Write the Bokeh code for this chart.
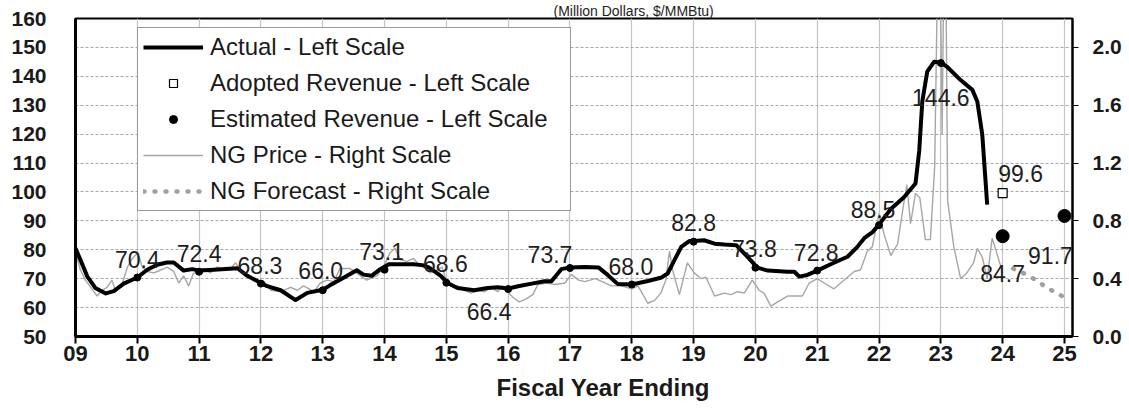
from bokeh.plotting import figure
from bokeh.models import (Range1d, LinearAxis, FixedTicker, Legend, LegendItem, Label,
                          Title, NumeralTickFormatter)
from bokeh.embed import file_html
from bokeh.resources import INLINE

# ---------------- data ----------------
act_t = [2009.00, 2009.08, 2009.19, 2009.32, 2009.49, 2009.62, 2009.78, 2010.00, 2010.16, 2010.32,
         2010.48, 2010.59, 2010.75, 2010.89, 2011.00, 2011.24, 2011.62, 2011.78, 2012.00, 2012.10,
         2012.32, 2012.56, 2012.75, 2013.00, 2013.11, 2013.33, 2013.55, 2013.66, 2013.79, 2013.93,
         2014.07, 2014.47, 2014.64, 2014.74, 2014.91, 2015.02, 2015.18, 2015.45, 2015.67, 2015.83,
         2016.00, 2016.16, 2016.38, 2016.59, 2016.70, 2016.86, 2017.00, 2017.24, 2017.46, 2017.61,
         2017.77, 2018.00, 2018.26, 2018.47, 2018.58, 2018.69, 2018.80, 2018.93, 2019.01, 2019.17,
         2019.34, 2019.50, 2019.69, 2019.87, 2020.03, 2020.20, 2020.52, 2020.63, 2020.71, 2020.84,
         2021.00, 2021.27, 2021.49, 2021.65, 2021.76, 2021.89, 2022.00, 2022.19, 2022.40, 2022.59,
         2022.65, 2022.70, 2022.78, 2022.89, 2023.00, 2023.10, 2023.32, 2023.51, 2023.59, 2023.67,
         2023.75]
act_v = [80.5, 76.5, 70.8, 66.8, 64.9, 65.7, 68.3, 70.4, 73.1, 74.8,
         75.6, 75.6, 72.8, 73.3, 72.8, 73.1, 73.6, 71.0, 68.5, 67.4,
         66.0, 62.6, 65.1, 66.2, 67.6, 70.2, 72.9, 71.4, 71.0, 73.3,
         75.0, 75.0, 74.6, 73.6, 71.0, 68.5, 66.8, 66.0, 66.8, 67.0,
         66.6, 67.4, 68.3, 69.1, 69.1, 73.3, 73.9, 74.0, 73.9, 71.3,
         68.2, 68.0, 69.2, 70.3, 71.8, 76.4, 81.0, 83.0, 83.0, 83.3,
         82.1, 81.8, 81.6, 77.6, 73.8, 72.8, 72.4, 72.4, 70.7, 71.3,
         72.8, 75.5, 77.6, 81.0, 84.0, 86.0, 88.7, 94.1, 98.1, 102.9,
         114.2, 131.3, 141.6, 145.0, 144.8, 143.3, 138.7, 135.3, 131.3, 119.9,
         95.6]

ng_t = [2009.00, 2009.08, 2009.16, 2009.35, 2009.43, 2009.51, 2009.59, 2009.65, 2009.76, 2009.84,
        2009.92, 2010.01, 2010.08, 2010.16, 2010.27, 2010.38, 2010.48, 2010.59, 2010.67, 2010.75,
        2010.83, 2010.91, 2011.00, 2011.08, 2011.18, 2011.29, 2011.40, 2011.51, 2011.59, 2011.70,
        2011.80, 2011.94, 2012.05, 2012.16, 2012.32, 2012.48, 2012.59, 2012.69, 2012.86, 2012.96,
        2013.07, 2013.18, 2013.28, 2013.44, 2013.58, 2013.71, 2013.88, 2013.98, 2014.09, 2014.17,
        2014.26, 2014.36, 2014.47, 2014.55, 2014.66, 2014.74, 2014.85, 2014.93, 2014.99, 2015.07,
        2015.18, 2015.29, 2015.40, 2015.51, 2015.62, 2015.72, 2015.83, 2015.91, 2015.99, 2016.08,
        2016.18, 2016.29, 2016.40, 2016.48, 2016.62, 2016.76, 2016.92, 2017.02, 2017.14, 2017.24,
        2017.41, 2017.52, 2017.67, 2017.83, 2018.00, 2018.10, 2018.26, 2018.37, 2018.47, 2018.55,
        2018.61, 2018.66, 2018.77, 2018.90, 2019.01, 2019.12, 2019.20, 2019.34, 2019.50, 2019.60,
        2019.71, 2019.82, 2019.95, 2020.06, 2020.14, 2020.25, 2020.36, 2020.52, 2020.68, 2020.76,
        2020.87, 2021.00, 2021.11, 2021.27, 2021.38, 2021.49, 2021.60, 2021.70, 2021.81, 2021.89,
        2022.00, 2022.08, 2022.19, 2022.30, 2022.40, 2022.45, 2022.51, 2022.59, 2022.66, 2022.75,
        2022.83, 2022.90, 2022.95, 2022.99, 2023.02, 2023.05, 2023.08, 2023.11, 2023.21, 2023.32,
        2023.42, 2023.53, 2023.59, 2023.67, 2023.75, 2023.83, 2023.91, 2024.00]
ng_p = [0.58, 0.46, 0.39, 0.28, 0.32, 0.34, 0.39, 0.31, 0.37, 0.48,
        0.54, 0.58, 0.48, 0.45, 0.44, 0.46, 0.48, 0.45, 0.37, 0.42,
        0.35, 0.44, 0.43, 0.47, 0.44, 0.48, 0.46, 0.47, 0.51, 0.44,
        0.42, 0.39, 0.38, 0.32, 0.31, 0.34, 0.32, 0.35, 0.31, 0.37,
        0.39, 0.38, 0.47, 0.47, 0.43, 0.39, 0.42, 0.48, 0.58, 0.61,
        0.53, 0.52, 0.54, 0.50, 0.47, 0.44, 0.46, 0.48, 0.40, 0.35,
        0.35, 0.32, 0.30, 0.32, 0.31, 0.34, 0.31, 0.35, 0.31, 0.27,
        0.24, 0.26, 0.29, 0.36, 0.37, 0.36, 0.37, 0.43, 0.39, 0.38,
        0.40, 0.38, 0.35, 0.35, 0.33, 0.35, 0.23, 0.25, 0.30, 0.39,
        0.59, 0.46, 0.29, 0.51, 0.44, 0.40, 0.41, 0.28, 0.30, 0.29,
        0.31, 0.30, 0.39, 0.32, 0.30, 0.21, 0.24, 0.28, 0.28, 0.28,
        0.37, 0.40, 0.37, 0.33, 0.37, 0.41, 0.45, 0.46, 0.59, 0.62,
        0.85, 0.71, 0.56, 0.64, 0.92, 1.05, 0.78, 0.99, 0.96, 0.67,
        0.67, 1.17, 2.60, 2.60, 1.40, 2.60, 2.60, 0.94, 0.62, 0.40,
        0.44, 0.51, 0.61, 0.55, 0.40, 0.68, 0.57, 0.44]

fc_t = [2024.17, 2024.25, 2024.33, 2024.42, 2024.50, 2024.58, 2024.67, 2024.75, 2024.83, 2024.92, 2025.00]
fc_p = [0.47, 0.45, 0.44, 0.42, 0.40, 0.38, 0.35, 0.33, 0.31, 0.29, 0.27]

est_fy = [2010, 2011, 2012, 2013, 2014, 2015, 2016, 2017, 2018, 2019, 2020, 2021, 2022, 2023]
est_v = [70.4, 72.4, 68.3, 66.0, 73.1, 68.6, 66.4, 73.7, 68.0, 82.8, 73.8, 72.8, 88.5, 144.6]
fut_fy = [2024, 2025]
fut_v = [84.7, 91.7]
adopt_fy = [2024]
adopt_v = [99.6]

x_ticks = list(range(2009, 2026))
x_tick_labels = ["09", "10", "11", "12", "13", "14", "15", "16", "17",
                 "18", "19", "20", "21", "22", "23", "24", "25"]
left_ticks = [50, 60, 70, 80, 90, 100, 110, 120, 130, 140, 150, 160]
right_ticks = [0.0, 0.4, 0.8, 1.2, 1.6, 2.0]

title_text = "(Million Dollars, $/MMBtu)"
xaxis_title = "Fiscal Year Ending"

# label offsets (style only, px): dx right, dy up
est_dx = [0, 0, -1, -2, -3, -1, -19, -20, -1, 0, -1, -1, -6, 0]
est_dy = [18, 18, 18, 20, 18, 19, -22, 13, 18, 19, 19, 18, 16, -34]
fut_dx = [0, -14]
fut_dy = [-37, -40]
adopt_dx = [18]
adopt_dy = [20]

FONT = "Liberation Sans"
W, H = 1129, 408
FL, FR, FT, FB = 75, 1072, 16, 337   # frame edges in canvas px

p = figure(width=W, height=H, output_backend="svg", toolbar_location=None,
           x_range=Range1d(2009, 2025.13), y_range=Range1d(50, 160),
           min_border_left=FL, min_border_right=W - FR, min_border_top=FT,
           min_border_bottom=H - FB,
           background_fill_color="white", border_fill_color="white")
p.extra_y_ranges = {"ng": Range1d(0, 2.2)}
p.outline_line_color = "black"
p.outline_line_width = 2

# chart subtitle above the frame
p.title.text = title_text
p.title.align = "left"
p.title.offset = 553 - FL
p.title.standoff = 0
p.title.text_font = FONT
p.title.text_font_style = "normal"
p.title.text_font_size = "14px"
p.title.text_color = "#1e1e1e"

# axes
p.xaxis.ticker = FixedTicker(ticks=x_ticks)
p.xaxis.major_label_overrides = {t: s for t, s in zip(x_ticks, x_tick_labels)}
p.yaxis.ticker = FixedTicker(ticks=left_ticks)
for ax in (p.xaxis[0], p.yaxis[0]):
    ax.axis_line_color = "black"
    ax.axis_line_width = 3
    ax.major_label_text_font = FONT
    ax.major_label_text_font_style = "bold"
    ax.major_label_text_color = "#1a1a1a"
    ax.minor_tick_line_color = None
    ax.major_tick_in = 0
p.xaxis.major_label_text_font_size = "22px"
p.xaxis.major_tick_out = 7
p.xaxis.major_tick_line_width = 2
p.xaxis.major_label_standoff = 2
p.yaxis.major_label_text_font_size = "21px"
p.yaxis.major_tick_out = 0
p.yaxis.major_tick_line_color = None
p.yaxis.major_label_standoff = 29

rax = LinearAxis(y_range_name="ng", ticker=FixedTicker(ticks=right_ticks),
                 formatter=NumeralTickFormatter(format="0.0"))
rax.axis_line_color = "black"
rax.axis_line_width = 2
rax.major_tick_in = 0
rax.major_tick_out = 6
rax.minor_tick_line_color = None
rax.major_label_text_font = FONT
rax.major_label_text_font_style = "bold"
rax.major_label_text_font_size = "21px"
rax.major_label_text_color = "#1a1a1a"
rax.major_label_standoff = 14
p.add_layout(rax, "right")

p.add_layout(Title(text=xaxis_title, align="left", offset=496 - FL, standoff=16,
                   text_font=FONT, text_font_style="bold", text_font_size="24px",
                   text_line_height=0.7, text_color="#1a1a1a"), "below")

# grids
p.xgrid.grid_line_color = "#c4c4c4"
p.xgrid.grid_line_width = 1.2
p.ygrid.grid_line_color = "#a8a8a8"
p.ygrid.grid_line_dash = "3 2"
p.ygrid.grid_line_width = 1

# series
r_ng = p.line(ng_t, ng_p, y_range_name="ng", line_color="#a6a6a6", line_width=1.4)
r_fc = p.line(fc_t, fc_p, y_range_name="ng", line_color="#a0a0a0", line_width=4.5,
              line_dash="1 10", line_cap="round")
r_act = p.line(act_t, act_v, line_color="black", line_width=4, line_join="round")
r_est = p.scatter(est_fy, est_v, marker="circle", size=7, color="black")
r_fut = p.scatter(fut_fy, fut_v, marker="circle", size=13, color="black")
r_adp = p.scatter(adopt_fy, adopt_v, marker="square", size=9, fill_color="white",
                  line_color="black", line_width=1.2)

# data labels
for xs, ys, dxs, dys in ((est_fy, est_v, est_dx, est_dy),
                         (fut_fy, fut_v, fut_dx, fut_dy),
                         (adopt_fy, adopt_v, adopt_dx, adopt_dy)):
    for xv, yv, dx, dy in zip(xs, ys, dxs, dys):
        p.add_layout(Label(x=xv, y=yv, text="%.1f" % yv, x_offset=dx, y_offset=dy,
                           text_align="center", text_baseline="alphabetic",
                           text_font=FONT, text_font_size="23px", text_color="#1e1e1e"))

# legend
legend = Legend(items=[
    LegendItem(label="Actual - Left Scale", renderers=[r_act]),
    LegendItem(label="Adopted Revenue - Left Scale", renderers=[r_adp]),
    LegendItem(label="Estimated Revenue - Left Scale", renderers=[r_est]),
    LegendItem(label="NG Price - Right Scale", renderers=[r_ng]),
    LegendItem(label="NG Forecast - Right Scale", renderers=[r_fc]),
], location=(137 - FL, FB - 212))
legend.label_text_font = FONT
legend.label_text_font_size = "24px"
legend.label_text_color = "#1a1a1a"
legend.glyph_width = 60
legend.glyph_height = 20
legend.label_height = 25
legend.label_width = 355
legend.spacing = 8
legend.padding = 5
legend.margin = 0
legend.label_standoff = 7
legend.border_line_color = "#333333"
legend.border_line_width = 1.5
legend.background_fill_alpha = 1.0
p.add_layout(legend)

open("out.html", "w").write(file_html(p, INLINE))
